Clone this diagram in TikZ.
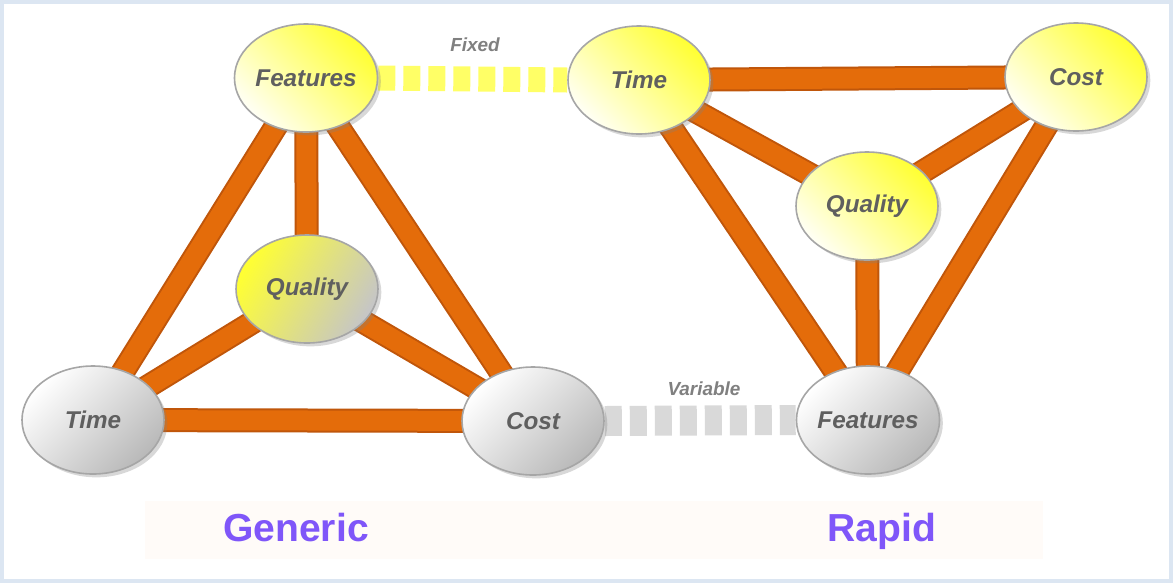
\documentclass[tikz,border=0pt]{standalone}
\usepackage{fontspec}
\setmainfont{Liberation Sans}
\usetikzlibrary{shapes.geometric,shadows,backgrounds}
\definecolor{frameblue}{HTML}{DCE6F2}
\definecolor{barorange}{HTML}{E46C0A}
\definecolor{baredge}{HTML}{C0560A}
\definecolor{fixedyellow}{HTML}{FFFF66}
\definecolor{vargray}{HTML}{D9D9D9}
\definecolor{nodetext}{HTML}{5F5F5F}
\definecolor{lbltext}{HTML}{808080}
\definecolor{bandfill}{HTML}{FFFBF8}
\definecolor{purpletext}{HTML}{7F56F9}
\definecolor{ybright}{HTML}{FFFF33}
\definecolor{ymid}{HTML}{FFFFB8}
\definecolor{ypale}{HTML}{FFFFF4}
\definecolor{outlinegray}{HTML}{A6A6A6}
\begin{document}
\begin{tikzpicture}[x=0.75pt,y=-0.75pt,
 ell/.style={ellipse, draw=outlinegray, line width=1.2pt, minimum width=106.5pt, minimum height=81pt, inner sep=0pt,
   font=\fontsize{18.2pt}{20pt}\selectfont\bfseries\itshape, text=nodetext,
   drop shadow={shadow xshift=2.5pt, shadow yshift=-2.5pt, opacity=0.3}},
 yel/.style={ell, top color=ybright, middle color=ymid, bottom color=ypale, shading angle=-45},
 gry/.style={ell, top color=white, middle color=gray!10, bottom color=gray!55, shading angle=45},
 mix/.style={ell, top color=ybright, middle color=ymid, bottom color=gray!45, shading angle=60},
 bar/.style={draw=baredge, line width=1.5pt, double=barorange, double distance=15pt},
 fixedlink/.style={draw=fixedyellow, line width=18.75pt, dash pattern=on 12.75pt off 6pt},
 varlink/.style={draw=vargray, line width=22.5pt, dash pattern=on 12.75pt off 6pt},
 linklbl/.style={font=\fontsize{14.2pt}{16pt}\selectfont\bfseries\itshape, text=lbltext, anchor=base, inner sep=0pt},
 titlelbl/.style={font=\fontsize{29.3pt}{32pt}\selectfont\bfseries, text=purpletext, anchor=base, inner sep=0pt}
]
\useasboundingbox (0,0) rectangle (1173,583);

% nodes: generic
\node[yel] (LFeat) at (306,78) {Features};
\node[mix] (LQual) at (307,289) {Quality};
\node[gry] (LTime) at (93,420) {Time};
\node[gry] (LCost) at (533,421) {Cost};
% nodes: rapid
\node[yel] (RTime) at (639,80) {Time};
\node[yel] (RCost) at (1076,77) {Cost};
\node[yel] (RQual) at (867,206) {Quality};
\node[gry] (RFeat) at (868,420) {Features};

% labels
\node[linklbl] (fixedlbl) at (475,51) {Fixed};
\node[linklbl] (varlbl) at (704,395) {Variable};

\begin{pgfonlayer}{background}
  \fill[frameblue] (0,0) rectangle (1173,583);
  \fill[white] (4,4) rectangle (1169,579);
  \fill[bandfill] (145,501) rectangle (1043,559);
  % generic bars
  \draw[bar] (LFeat.center) -- (LTime.center);
  \draw[bar] (LFeat.center) -- (LCost.center);
  \draw[bar] (LFeat.center) -- (LQual.center);
  \draw[bar] (LQual.center) -- (LTime.center);
  \draw[bar] (LQual.center) -- (LCost.center);
  \draw[bar] (LTime.center) -- (LCost.center);
  % rapid bars
  \draw[bar] (RTime.center) -- (RCost.center);
  \draw[bar] (RTime.center) -- (RQual.center);
  \draw[bar] (RCost.center) -- (RQual.center);
  \draw[bar] (RTime.center) -- (RFeat.center);
  \draw[bar] (RCost.center) -- (RFeat.center);
  \draw[bar] (RQual.center) -- (RFeat.center);
  % links
  \draw[fixedlink] (LFeat.east) -- (RTime.west);
  \draw[varlink] (LCost.east) -- (RFeat.west);
\end{pgfonlayer}

\node[titlelbl] (generic) at (296,541) {Generic};
\node[titlelbl] (rapid) at (882,541) {Rapid};
\end{tikzpicture}
\end{document}
